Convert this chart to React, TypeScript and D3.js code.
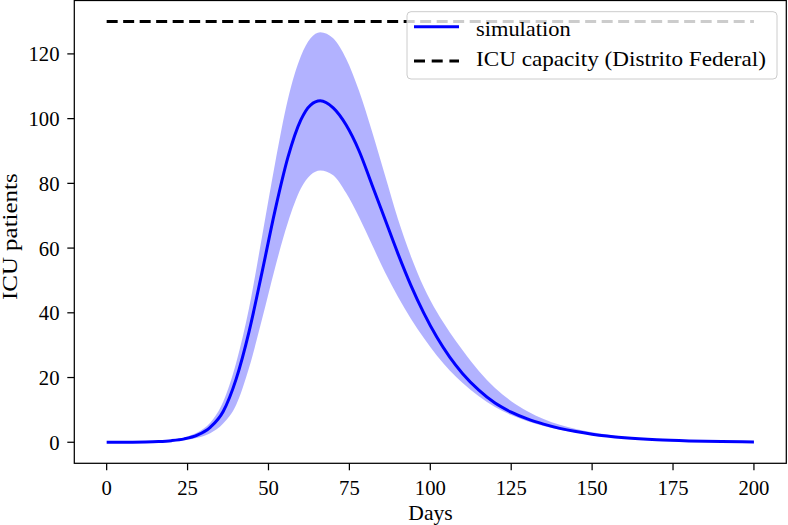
import React from "react";
import * as d3 from "d3";

const days = [0, 4, 8, 12, 16, 20, 24, 28, 32, 36, 40, 44, 48, 52, 56, 60, 63, 66, 70, 74, 78, 82, 86, 90, 94, 98, 102, 106, 110, 115, 120, 125, 130, 135, 140, 145, 150, 160, 170, 180, 190, 200];
const meanValues = [0.005, 0.015, 0.04, 0.1, 0.23, 0.5, 1.05, 2.2, 4.6, 9.5, 19.5, 34.2, 52.5, 71.5, 88.0, 99.6, 104.2, 105.5, 103.3, 98.0, 90.0, 79.5, 68.9, 58.3, 48.5, 39.9, 32.5, 26.3, 21.2, 16.1, 12.1, 9.3, 7.2, 5.6, 4.3, 3.3, 2.5, 1.4, 0.75, 0.4, 0.2, 0.1];
const upperValues = [0.007, 0.02, 0.05, 0.13, 0.3, 0.7, 1.5, 3.0, 6.0, 12.5, 24.5, 41.5, 63.5, 86.0, 106.0, 119.3, 124.8, 126.7, 124.8, 118.5, 108.5, 96.0, 82.5, 69.0, 57.5, 47.9, 40.3, 34.0, 28.4, 22.0, 16.8, 12.7, 9.6, 7.2, 5.4, 4.1, 3.1, 1.7, 0.9, 0.48, 0.24, 0.12];
const lowerValues = [0.003, 0.008, 0.02, 0.05, 0.12, 0.3, 0.65, 1.4, 2.8, 5.8, 11.5, 23.0, 38.0, 53.8, 67.9, 78.4, 82.6, 84.0, 82.5, 77.0, 69.5, 61.0, 52.5, 45.0, 38.2, 32.2, 26.8, 22.2, 18.3, 14.2, 10.9, 8.4, 6.5, 5.0, 3.9, 3.0, 2.3, 1.3, 0.7, 0.37, 0.19, 0.09];
const capacityDays = [0, 200];
const capacityValue = 130;
const xTicks = [0, 25, 50, 75, 100, 125, 150, 175, 200];
const yTicks = [0, 20, 40, 60, 80, 100, 120];
const seriesLabels = ["simulation", "ICU capacity (Distrito Federal)"];
const xLabel = "Days";
const yLabel = "ICU patients";

const FONT = "'Liberation Serif', 'DejaVu Serif', serif";

export default function App() {
  const x = d3.scaleLinear().domain([-10, 210]).range([74.3, 786.3]);
  const y = d3.scaleLinear().domain([-6.5, 136.5]).range([463.3, 0.5]);

  const pts = days.map((d, i) => ({ d, m: meanValues[i], u: upperValues[i], l: lowerValues[i] }));
  const area = d3
    .area<any>()
    .x((p) => x(p.d))
    .y0((p) => y(p.l))
    .y1((p) => y(p.u))
    .curve(d3.curveMonotoneX);
  const line = d3
    .line<any>()
    .x((p) => x(p.d))
    .y((p) => y(p.m))
    .curve(d3.curveMonotoneX);

  const left = 74.3, right = 786.3, top = 0.5, bottom = 463.3;

  return (
    <svg width={788} height={525} style={{ position: "absolute", left: 0, top: 0, background: "#fff" }} fontFamily={FONT}>
      <rect x={0} y={0} width={788} height={525} fill="#fff" />
      <path d={area(pts) || ""} fill="#0000ff" fillOpacity={0.3} stroke="none" />
      <path d={line(pts) || ""} fill="none" stroke="#0000ff" strokeWidth={3} />
      <line x1={x(capacityDays[0])} x2={x(capacityDays[1])} y1={y(capacityValue)} y2={y(capacityValue)} stroke="#000" strokeWidth={3} strokeDasharray="11,5.5" />

      <rect x={left} y={top} width={right - left} height={bottom - top} fill="none" stroke="#000" strokeWidth={1.25} />

      {xTicks.map((t) => (
        <g key={"x" + t}>
          <line x1={x(t)} x2={x(t)} y1={bottom} y2={bottom + 7} stroke="#000" strokeWidth={1.25} />
          <text x={x(t)} y={494.5} fontSize={20.7} textAnchor="middle" fill="#000">{t}</text>
        </g>
      ))}
      {yTicks.map((t) => (
        <g key={"y" + t}>
          <line x1={left - 7} x2={left} y1={y(t)} y2={y(t)} stroke="#000" strokeWidth={1.25} />
          <text x={59.5} y={y(t) + 7.5} fontSize={20.7} textAnchor="end" fill="#000">{t}</text>
        </g>
      ))}

      <text x={430.5} y={520} fontSize={20.7} textAnchor="middle" textLength={44.4} lengthAdjust="spacingAndGlyphs" fill="#000">{xLabel}</text>
      <text transform="translate(17,236.7) rotate(-90)" fontSize={20.2} textAnchor="middle" textLength={126.7} lengthAdjust="spacingAndGlyphs" fill="#000">{yLabel}</text>

      <rect x={407} y={11.7} width={370} height={67.3} rx={4} ry={4} fill="#fff" fillOpacity={0.8} stroke="#cccccc" strokeWidth={1} />
      <line x1={414} x2={459} y1={26.7} y2={26.7} stroke="#0000ff" strokeWidth={3} />
      <text x={476} y={35.5} fontSize={20.7} textLength={94.7} lengthAdjust="spacingAndGlyphs" fill="#000">{seriesLabels[0]}</text>
      <line x1={414} x2={459} y1={61} y2={61} stroke="#000" strokeWidth={3} strokeDasharray="11,6.7" />
      <text x={476} y={65.7} fontSize={20.7} textLength={290} lengthAdjust="spacingAndGlyphs" fill="#000">{seriesLabels[1]}</text>
    </svg>
  );
}
